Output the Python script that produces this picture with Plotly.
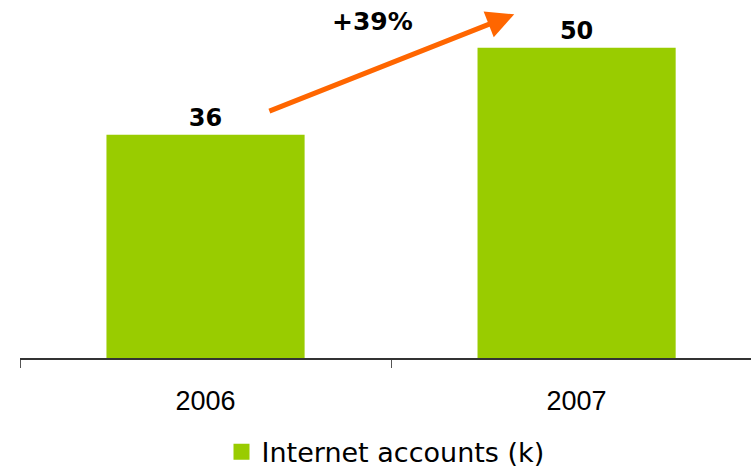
import plotly.graph_objects as go

categories = ["2006", "2007"]
accounts = [36, 50]
value_labels = ["36", "50"]
series_name = "Internet accounts (k)"
growth_label = "+39%"

GREEN = "#99CC00"
ORANGE = "#FF6600"

fig = go.Figure()
fig.add_trace(go.Bar(
    x=categories, y=accounts, text=value_labels,
    textposition="outside", cliponaxis=False,
    textfont=dict(family="DejaVu Sans", size=24, color="black", weight="bold"),
    marker=dict(color=GREEN, line=dict(width=0)),
    width=0.534, showlegend=False, hoverinfo="skip",
))
fig.add_trace(go.Scatter(
    x=[None], y=[None], mode="markers", name=series_name,
    marker=dict(symbol="square", size=19, color=GREEN),
))

fig.add_annotation(
    x=0.832, y=55.4, ax=0.168, ay=39.7,
    xref="x", yref="y", axref="x", ayref="y",
    showarrow=True, arrowhead=2, arrowsize=1.1, arrowwidth=5,
    arrowcolor=ORANGE, text="",
)
fig.add_annotation(
    x=0.449, y=54.2, xref="x", yref="y", text=growth_label, showarrow=False,
    font=dict(family="DejaVu Sans", size=25, color="black", weight="bold"),
)

fig.update_layout(
    width=751, height=471,
    margin=dict(l=20, r=0, t=0, b=113),
    paper_bgcolor="white", plot_bgcolor="white",
    xaxis=dict(
        range=[-0.5, 1.47], showgrid=False, showline=True,
        linecolor="#333333", linewidth=1.5,
        ticks="outside", tickson="boundaries", ticklen=8, tickcolor="#555555",
        tickfont=dict(family="Liberation Sans", size=27, color="black"),
        ticklabelstandoff=18,
    ),
    yaxis=dict(range=[0, 57.7], visible=False, showgrid=False),
    legend=dict(
        orientation="h", x=0.5, xanchor="center",
        yref="container", y=0.04, yanchor="middle",
        font=dict(family="DejaVu Sans", size=27, color="black"),
        itemsizing="trace",
    ),
    bargap=0.47,
)

fig.write_html(
    "out.html",
    config={"displayModeBar": False},
    post_script="document.body.style.margin='0';document.body.style.padding='0';",
)
